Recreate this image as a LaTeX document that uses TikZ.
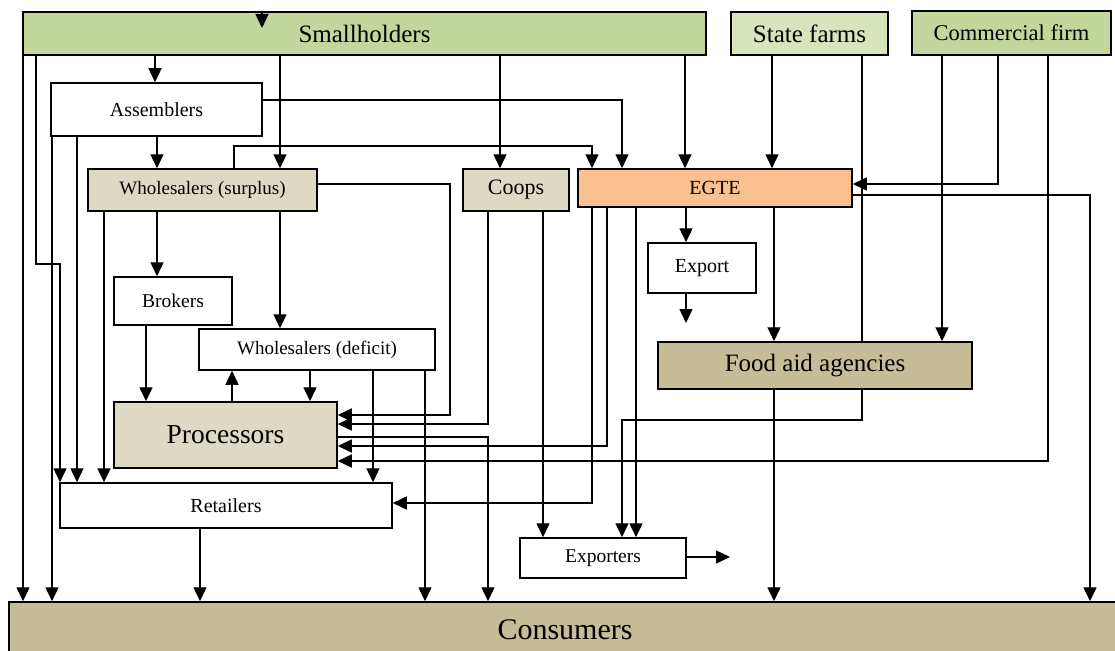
\documentclass[tikz,border=0pt]{standalone}
\usepackage{fontspec}
\setmainfont{Liberation Serif}
\usepackage{xcolor}
\usetikzlibrary{arrows.meta,backgrounds}

\definecolor{farmgreen}{RGB}{195,214,155}
\definecolor{stategreen}{RGB}{215,228,188}
\definecolor{tradetan}{RGB}{221,217,195}
\definecolor{egteorange}{RGB}{250,192,144}
\definecolor{aidkhaki}{RGB}{196,189,151}
\newcommand{\labelsize}[1]{\fontsize{#1}{#1}\selectfont}

\begin{document}
\begin{tikzpicture}[x=1pt,y=-1pt,
  box/.style={draw=black,line width=1.5pt,inner sep=0pt,anchor=center,fill=white},
  flow/.style={line width=1.4pt,-{Triangle[length=14pt,width=13pt]}}]
\useasboundingbox (0,0) rectangle (1115,650);

% Producers
\node[box,fill=farmgreen,minimum width=683pt,minimum height=43pt,font=\labelsize{25}] (small) at (364.5,33.5) {Smallholders};
\node[box,fill=stategreen,minimum width=157pt,minimum height=43pt,font=\labelsize{25}] (state) at (809.5,33.5) {State farms};
\node[box,fill=farmgreen,minimum width=199pt,minimum height=44pt,font=\labelsize{22.5}] (comm) at (1011.5,33) {Commercial firm};

% Traders
\node[box,minimum width=211pt,minimum height=53pt,font=\labelsize{20}] (assem) at (156.5,109.5) {Assemblers};
\node[box,fill=tradetan,minimum width=229pt,minimum height=42pt,font=\labelsize{19}] (whs) at (202.5,190) {Wholesalers (surplus)};
\node[box,fill=tradetan,minimum width=106pt,minimum height=42pt,font=\labelsize{22}] (coops) at (516,190) {Coops};
\node[box,fill=egteorange,minimum width=274pt,minimum height=38pt,font=\labelsize{20}] (egte) at (715,188) {EGTE};
\node[box,minimum width=108pt,minimum height=50pt,font=\labelsize{20}] (export) at (702,268) {Export};
\node[box,minimum width=118pt,minimum height=48pt,font=\labelsize{19.5}] (brokers) at (173,301) {Brokers};
\node[box,minimum width=236pt,minimum height=41pt,font=\labelsize{19}] (whd) at (317,349.5) {Wholesalers (deficit)};
\node[box,fill=aidkhaki,minimum width=314pt,minimum height=47pt,font=\labelsize{25}] (food) at (815,365.5) {Food aid agencies};

% Processing and retail
\node[box,fill=tradetan,minimum width=223pt,minimum height=66pt,font=\labelsize{27.5}] (proc) at (225.5,435) {Processors};
\node[box,minimum width=332pt,minimum height=45pt,font=\labelsize{20}] (retail) at (226,505.5) {Retailers};
\node[box,minimum width=166pt,minimum height=40pt,font=\labelsize{19.5}] (exporters) at (603,558) {Exporters};
\node[box,fill=aidkhaki,minimum width=1112pt,minimum height=56pt,font=\labelsize{30}] (cons) at (565,630) {Consumers};

\begin{scope}[on background layer]
% Smallholders
\draw[flow] (23,0|-small.south) -- (23,0|-cons.north);
\draw[flow] (36,0|-small.south) |- (60,264) -- (60,0|-retail.north);
\draw[flow] (155,0|-small.south) -- (155,0|-assem.north);
\draw[flow] (280,0|-small.south) -- (280,0|-whs.north);
\draw[flow] (500,0|-small.south) -- (500,0|-coops.north);
\draw[flow] (685,0|-small.south) -- (685,0|-egte.north);

% State farms
\draw[flow] (772,0|-state.south) -- (772,0|-egte.north);
\draw[flow] (862,0|-state.south) -- (862,420) -| (622,0|-exporters.north);

% Commercial firm
\draw[flow] (942,0|-comm.south) -- (942,0|-food.north);
\draw[flow] (998,0|-comm.south) |- (egte.east|-0,184);
\draw[flow] (1048,0|-comm.south) |- (proc.east|-0,461);

% Assemblers
\draw[flow] (assem.east|-0,100) -| (622,0|-egte.north);
\draw[flow] (157,0|-assem.south) -- (157,0|-whs.north);
\draw[flow] (52,0|-assem.south) -- (52,0|-cons.north);
\draw[flow] (77,0|-assem.south) -- (77,0|-retail.north);

% Wholesalers (surplus)
\draw[flow] (234,0|-whs.north) |- (592,146) -- (592,0|-egte.north);
\draw[flow] (whs.east|-0,184) -| (450,415) -- (proc.east|-0,415);
\draw[flow] (157,0|-whs.south) -- (157,0|-brokers.north);
\draw[flow] (280,0|-whs.south) -- (280,0|-whd.north);
\draw[flow] (104,0|-whs.south) -- (104,0|-retail.north);

% Coops
\draw[flow] (488,0|-coops.south) |- (proc.east|-0,424);
\draw[flow] (543,0|-coops.south) -- (543,0|-exporters.north);

% EGTE
\draw[flow] (egte.east|-0,195) -| (1090,0|-cons.north);
\draw[flow] (686,0|-egte.south) -- (686,0|-export.north);
\draw[flow] (774,0|-egte.south) -- (774,0|-food.north);
\draw[flow] (592,0|-egte.south) |- (retail.east|-0,503);
\draw[flow] (607,0|-egte.south) |- (proc.east|-0,446);
\draw[flow] (636,0|-egte.south) -- (636,0|-exporters.north);

% Export and exporters
\coordinate (exportout) at (686,323);
\draw[flow] (686,0|-export.south) -- (exportout);
\coordinate (exportersout) at (730,557);
\draw[flow] (exporters.east|-0,557) -- (exportersout);

% Brokers, wholesalers (deficit), processors
\draw[flow] (146,0|-brokers.south) -- (146,0|-proc.north);
\draw[flow] (310,0|-whd.south) -- (310,0|-proc.north);
\draw[flow] (232,0|-proc.north) -- (232,0|-whd.south);
\draw[flow] (373,0|-whd.south) -- (373,0|-retail.north);
\draw[flow] (425,0|-whd.south) -- (425,0|-cons.north);
\draw[flow] (proc.east|-0,437) -| (488,0|-cons.north);

% Retailers and food aid
\draw[flow] (200,0|-retail.south) -- (200,0|-cons.north);
\draw[flow] (774,0|-food.south) -- (774,0|-cons.north);
\end{scope}

% Incoming at the top of smallholders
\coordinate (smallin) at (262,28);
\draw[flow] (262,0|-small.north) -- (smallin);

\end{tikzpicture}
\end{document}
